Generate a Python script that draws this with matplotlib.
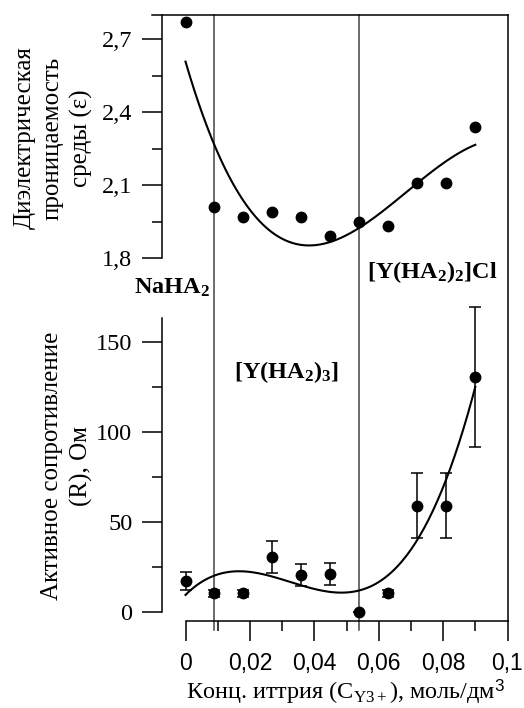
import numpy as np
import matplotlib
matplotlib.use("Agg")
import matplotlib.pyplot as plt

plt.rcParams['font.family'] = ['Liberation Serif', 'DejaVu Serif']
plt.rcParams['mathtext.fontset'] = 'custom'
plt.rcParams['mathtext.rm'] = 'Liberation Serif'
plt.rcParams['mathtext.it'] = 'Liberation Serif:italic'
plt.rcParams['mathtext.bf'] = 'Liberation Serif:bold'
plt.rcParams['mathtext.sf'] = 'Liberation Sans'

# concentration of yttrium, mol/dm3
conc = [0, 0.009, 0.018, 0.027, 0.036, 0.045, 0.054, 0.063, 0.072, 0.081, 0.09]
# dielectric permittivity
eps = [2.77, 2.01, 1.97, 1.99, 1.97, 1.89, 1.95, 1.93, 2.11, 2.11, 2.34]
# active resistance, Ohm
res = [17.5, 10.5, 10.5, 30.5, 20.5, 21, 0, 10.5, 59, 59, 130.5]
res_err = [5, 2, 2, 9, 6, 6, 0, 2, 18, 18, 39]
# phase boundaries
bounds = [0.009, 0.054]

W, H = 524, 708
fig = plt.figure(figsize=(W / 100, H / 100), dpi=100)

def box(x0, y0, x1, y1):
    # pixel box -> figure fraction
    return [x0 / W, 1 - y1 / H, (x1 - x0) / W, (y1 - y0) / H]

px0, px1 = 185.5, 507.5   # x = 0 and x = 0.1 in pixels
def xval(px):
    return (px - px0) / (px1 - px0) * 0.1

lw = 1.1
tick_fs = 17.5

# frame + phase boundaries
axf = fig.add_axes(box(152, 15, 507.5, 621))
axf.set_xlim(xval(152), 0.1)
axf.set_ylim(0, 1)
axf.patch.set_alpha(0)
for s in ['left', 'bottom']:
    axf.spines[s].set_visible(False)
for s in ['top', 'right']:
    axf.spines[s].set_linewidth(lw)
axf.set_xticks([])
axf.set_yticks([])
for b in bounds:
    axf.axvline(b, ymin=-0.015, ymax=1, color='#444444', lw=1.1, clip_on=False)

# top panel: permittivity
ax1 = fig.add_axes(box(162, 15, 507.5, 258))
ax1.patch.set_alpha(0)
ax1.set_xlim(xval(162), 0.1)
ax1.set_ylim(1.8, 2.8)
for s in ['top', 'right', 'bottom']:
    ax1.spines[s].set_visible(False)
ax1.spines['left'].set_linewidth(lw)
ax1.set_xticks([])
ax1.set_yticks([1.8, 2.1, 2.4, 2.7])
ax1.set_yticklabels(['1,8', '2,1', '2,4', '2,7'])
ax1.set_yticks([1.95, 2.25, 2.55], minor=True)
ax1.tick_params(axis='y', which='major', length=14.4, width=lw, labelsize=tick_fs, pad=7)
ax1.tick_params(axis='y', which='minor', length=7.2, width=lw)

xs = np.linspace(0, 0.09, 200)
p1 = np.polyfit(conc, eps, 3)
ax1.plot(xs, np.polyval(p1, xs), color='black', lw=1.5)
ax1.plot(conc, eps, 'o', color='black', markersize=7.5, clip_on=False)

# bottom panel: resistance
ax2 = fig.add_axes(box(162, 318, 507.5, 621))
ax2.patch.set_alpha(0)
ax2.set_xlim(xval(162), 0.1)
ax2.set_ylim(-5, (612 - 318) / 1.8)
for s in ['top', 'right']:
    ax2.spines[s].set_visible(False)
ax2.spines['left'].set_bounds(0, (612 - 318) / 1.8)
ax2.spines['bottom'].set_bounds(0, 0.1)
ax2.spines['left'].set_linewidth(lw)
ax2.spines['bottom'].set_linewidth(lw)
ax2.set_yticks([0, 50, 100, 150])
ax2.set_yticks([25, 75, 125], minor=True)
ax2.set_xticks([0, 0.02, 0.04, 0.06, 0.08, 0.1])
ax2.set_xticklabels(['0', '0,02', '0,04', '0,06', '0,08', '0,1'],
                    family='Liberation Sans')
ax2.set_xticks([0.01, 0.03, 0.05, 0.07, 0.09], minor=True)
ax2.tick_params(axis='y', which='major', length=14.4, width=lw, labelsize=tick_fs, pad=7)
ax2.tick_params(axis='y', which='minor', length=7.2, width=lw)
ax2.tick_params(axis='x', which='major', length=14.4, width=lw, labelsize=16.5, pad=8)
ax2.tick_params(axis='x', which='minor', length=7.2, width=lw)

p2 = np.polyfit(conc, res, 3)
ax2.plot(xs, np.polyval(p2, xs), color='black', lw=1.5)
ax2.errorbar(conc, res, yerr=res_err, fmt='o', color='black', markersize=7.5,
             elinewidth=1.1, capsize=4, capthick=1.1, clip_on=False)

# labels
fig.text(53 / W, 1 - 138 / H, 'Диэлектрическая\nпроницаемость\nсреды (ε)',
         rotation=90, ha='center', va='center', fontsize=18,
         multialignment='center', linespacing=1.35)
fig.text(67 / W, 1 - 466 / H, 'Активное сопротивление\n(R), Ом',
         rotation=90, ha='center', va='center', fontsize=18,
         multialignment='center', linespacing=1.4)
fig.text(346 / W, 1 - 692 / H,
         r'Конц. иттрия (C$_{\mathrm{Y3+}}$), моль/дм$^{\mathsf{3}}$',
         ha='center', va='center', fontsize=17.5)

fig.text(172 / W, 1 - 288 / H, r'NaHA$_{\mathbf{2}}$', ha='center', va='center',
         fontsize=17.5, fontweight='bold')
fig.text(432 / W, 1 - 272 / H, r'[Y(HA$_{\mathbf{2}}$)$_{\mathbf{2}}$]Cl',
         ha='center', va='center', fontsize=17.5, fontweight='bold')
fig.text(286 / W, 1 - 372 / H, r'[Y(HA$_{\mathbf{2}}$)$_{\mathbf{3}}$]',
         ha='center', va='center', fontsize=17.5, fontweight='bold')

fig.savefig('out.png', dpi=100)
